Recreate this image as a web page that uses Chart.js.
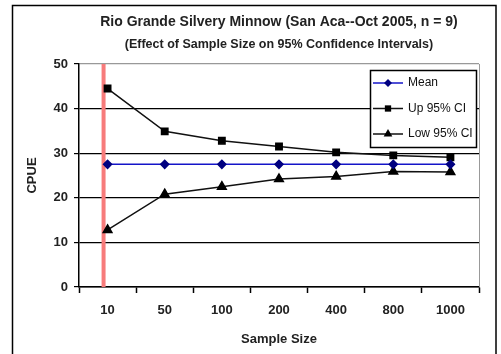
<!DOCTYPE html>
<html>
<head>
<meta charset="utf-8">
<script src="https://cdn.jsdelivr.net/npm/chart.js@4/dist/chart.umd.min.js"></script>
<style>
  html, body { margin: 0; padding: 0; background: #fff; overflow: hidden; }
  #wrap { position: relative; width: 501px; height: 354px; }
</style>
</head>
<body>
<div id="wrap"><canvas id="cpueChart" width="501" height="354"></canvas></div>
<script>
// sample sizes on the x axis
const sampleSizes = ['10', '50', '100', '200', '400', '800', '1000'];
// CPUE mean and 95% confidence limits for each sample size
const meanCpue = [27.5, 27.5, 27.5, 27.5, 27.5, 27.5, 27.5];
const upperCI = [44.5, 34.9, 32.8, 31.5, 30.2, 29.5, 29.1];
const lowerCI = [12.8, 20.8, 22.5, 24.2, 24.8, 25.9, 25.8];
const yTicks = [0, 10, 20, 30, 40, 50];

const textFont = "'Liberation Sans', Arial, sans-serif";

// outer frame, red marker line at n = 10, right plot edge
const framePlugin = {
    id: 'frame',
    beforeDraw(chart) {
        const ctx = chart.ctx;
        ctx.save();
        ctx.strokeStyle = '#000';
        ctx.lineWidth = 1.5;
        ctx.strokeRect(12.5, 5.5, 483.5, 360);
        ctx.restore();
    },
    beforeDatasetsDraw(chart) {
        const { ctx, chartArea, scales } = chart;
        ctx.save();
        // right border of the plot
        ctx.strokeStyle = '#999';
        ctx.lineWidth = 1;
        ctx.beginPath();
        ctx.moveTo(chartArea.right + 0.5, chartArea.top);
        ctx.lineTo(chartArea.right + 0.5, chartArea.bottom);
        ctx.stroke();
        // red line at the smallest sample size
        const x = scales.x.getPixelForValue(0) - 4;
        ctx.strokeStyle = '#f77b7b';
        ctx.lineWidth = 4;
        ctx.beginPath();
        ctx.moveTo(x, chartArea.top);
        ctx.lineTo(x, chartArea.bottom);
        ctx.stroke();
        ctx.restore();
    }
};

function drawMarker(ctx, style, x, y, r, color) {
    ctx.fillStyle = color;
    ctx.beginPath();
    if (style === 'rectRot') {
        ctx.moveTo(x, y - r);
        ctx.lineTo(x + r, y);
        ctx.lineTo(x, y + r);
        ctx.lineTo(x - r, y);
    } else if (style === 'rect') {
        ctx.rect(x - r * 0.7, y - r * 0.7, r * 1.4, r * 1.4);
    } else {
        ctx.moveTo(x, y - r);
        ctx.lineTo(x + r * 0.87, y + r * 0.5);
        ctx.lineTo(x - r * 0.87, y + r * 0.5);
    }
    ctx.closePath();
    ctx.fill();
}

// legend box inside the top right of the plot
const boxLegend = {
    id: 'boxLegend',
    afterDraw(chart) {
        const ctx = chart.ctx;
        const left = 370, top = 70, w = 106, h = 77;
        ctx.save();
        ctx.fillStyle = '#fff';
        ctx.fillRect(left, top, w, h);
        ctx.strokeStyle = '#000';
        ctx.lineWidth = 1.5;
        ctx.strokeRect(left + 0.5, top + 0.5, w, h);
        ctx.font = '12px ' + textFont;
        ctx.textBaseline = 'middle';
        chart.data.datasets.forEach((ds, i) => {
            const y = top + 13 + i * 25.5;
            ctx.strokeStyle = ds.borderColor;
            ctx.lineWidth = 1.5;
            ctx.beginPath();
            ctx.moveTo(left + 3, y);
            ctx.lineTo(left + 33, y);
            ctx.stroke();
            drawMarker(ctx, ds.pointStyle, left + 18, y, ds.pointRadius, ds.pointBackgroundColor);
            ctx.fillStyle = '#111';
            ctx.fillText(ds.label, left + 38, y);
        });
        ctx.restore();
    }
};

const ctx = document.getElementById('cpueChart').getContext('2d');
new Chart(ctx, {
    type: 'line',
    data: {
        labels: sampleSizes,
        datasets: [
            {
                label: 'Mean',
                data: meanCpue,
                borderColor: '#1414c8',
                backgroundColor: '#000080',
                pointBackgroundColor: '#000080',
                pointBorderColor: '#000080',
                pointStyle: 'rectRot',
                pointRadius: 4,
                borderWidth: 1.5,
                tension: 0
            },
            {
                label: 'Up 95% CI',
                data: upperCI,
                borderColor: '#111',
                backgroundColor: '#000',
                pointBackgroundColor: '#000',
                pointBorderColor: '#000',
                pointStyle: 'rect',
                pointRadius: 4.5,
                borderWidth: 1.5,
                tension: 0
            },
            {
                label: 'Low 95% CI',
                data: lowerCI,
                borderColor: '#111',
                backgroundColor: '#000',
                pointBackgroundColor: '#000',
                pointBorderColor: '#000',
                pointStyle: 'triangle',
                pointRadius: 5,
                borderWidth: 1.5,
                tension: 0
            }
        ]
    },
    options: {
        responsive: false,
        animation: false,
        layout: { padding: { left: 12, right: 22, top: 10, bottom: 5 } },
        plugins: {
            legend: { display: false },
            tooltip: { enabled: false },
            title: {
                display: true,
                fullSize: false,
                text: 'Rio Grande Silvery Minnow (San Aca--Oct 2005, n = 9)',
                color: '#222',
                font: { family: textFont, size: 14, weight: 'bold' },
                padding: { top: 3.6, bottom: 2 }
            },
            subtitle: {
                display: true,
                fullSize: false,
                text: '(Effect of Sample Size on 95% Confidence Intervals)',
                color: '#222',
                font: { family: textFont, size: 12.5, weight: 'bold' },
                padding: { top: 5.1, bottom: 11.5 }
            }
        },
        scales: {
            x: {
                offset: true,
                afterFit(scale) { scale.height = 62; },
                grid: {
                    offset: true,
                    drawOnChartArea: false,
                    color: '#000',
                    tickLength: 6,
                    tickWidth: 1.5
                },
                border: { color: '#000', width: 1.5 },
                ticks: {
                    color: '#222',
                    padding: 10,
                    font: { family: textFont, size: 13, weight: 'bold' }
                },
                title: {
                    display: true,
                    text: 'Sample Size',
                    color: '#222',
                    font: { family: textFont, size: 13, weight: 'bold' },
                    padding: { top: 0, bottom: 1.5 }
                }
            },
            y: {
                min: 0,
                max: 50,
                afterFit(scale) { scale.width = 67; },
                afterBuildTicks(scale) {
                    scale.ticks = yTicks.map(v => ({ value: v }));
                },
                grid: {
                    color: ctx => ctx.tick && ctx.tick.value === 50 ? '#999' : '#000',
                    lineWidth: 1.2,
                    tickLength: 5,
                    tickColor: '#000'
                },
                border: { color: '#000', width: 1.5 },
                ticks: {
                    color: '#222',
                    padding: 6,
                    font: { family: textFont, size: 13, weight: 'bold' }
                },
                title: {
                    display: true,
                    text: 'CPUE',
                    color: '#222',
                    font: { family: textFont, size: 13, weight: 'bold' },
                    padding: { top: 13, bottom: 0 }
                }
            }
        }
    },
    plugins: [framePlugin, boxLegend]
});
</script>
</body>
</html>
